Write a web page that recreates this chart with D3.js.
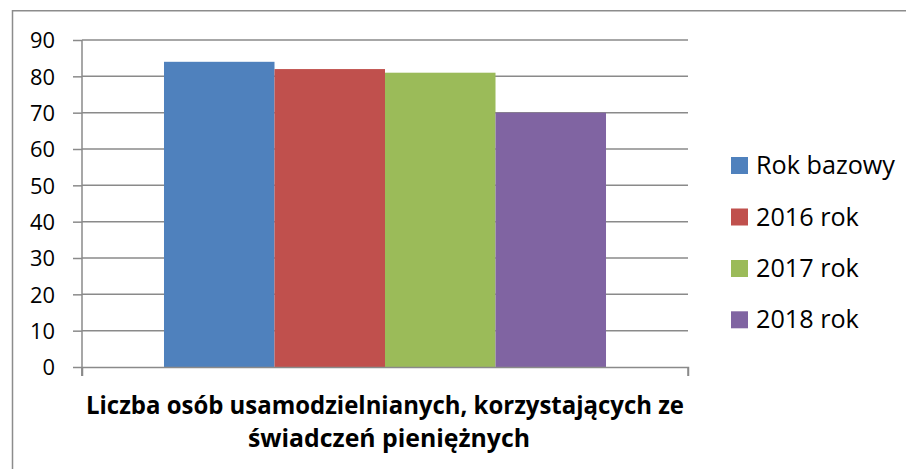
<!DOCTYPE html>
<html>
<head>
<meta charset="utf-8">
<script src="https://cdn.jsdelivr.net/npm/d3@7"></script>
<style>
  html, body { margin: 0; padding: 0; background: #fff; }
  svg { display: block; }
  text { font-family: "Open Sans", "DejaVu Sans", sans-serif; fill: #000; }
</style>
</head>
<body>
<svg id="chart" width="906" height="469"></svg>
<script>
const categories = ["Liczba osób usamodzielnianych, korzystających ze świadczeń pieniężnych"];
const categoryLines = ["Liczba osób usamodzielnianych, korzystających ze", "świadczeń pieniężnych"];
const seriesNames = ["Rok bazowy", "2016 rok", "2017 rok", "2018 rok"];
const seriesValues = [84, 82, 81, 70];
const seriesColors = ["#4F81BD", "#C0504D", "#9BBB59", "#8064A2"];
const yTicks = [0, 10, 20, 30, 40, 50, 60, 70, 80, 90];

const svg = d3.select("#chart");
const plot = { left: 82, right: 688, top: 40, bottom: 367 };
const FONT = "'Open Sans', 'DejaVu Sans', sans-serif";

// outer border
svg.append("rect")
  .attr("x", 12.5).attr("y", 10.75)
  .attr("width", 960).attr("height", 500)
  .attr("fill", "none").attr("stroke", "#8c8c8c").attr("stroke-width", 1.5);

const y = d3.scaleLinear().domain([0, 90]).range([plot.bottom, plot.top]);
const x0 = d3.scaleBand().domain(categories).range([plot.left, plot.right])
  .paddingInner(0).paddingOuter(0.1855);
const x1 = d3.scaleBand().domain(seriesNames).range([0, x0.bandwidth()]).padding(0);

const gridColor = "#8a8a8a";

// gridlines
svg.append("g").selectAll("line").data(yTicks.filter(d => d > 0)).join("line")
  .attr("x1", plot.left).attr("x2", plot.right)
  .attr("y1", d => y(d)).attr("y2", d => y(d))
  .attr("stroke", gridColor).attr("stroke-width", 1.5);

// bars
svg.append("g").selectAll("rect").data(seriesNames.map((s, i) => ({ s, v: seriesValues[i], c: seriesColors[i] })))
  .join("rect")
  .attr("x", d => x0(categories[0]) + x1(d.s))
  .attr("width", x1.bandwidth())
  .attr("y", d => y(d.v))
  .attr("height", d => y(0) - y(d.v))
  .attr("fill", d => d.c);

// fit helper
function fitWidth(sel, target) {
  const node = sel.node();
  const fs = parseFloat(sel.attr("font-size"));
  const w = node.getComputedTextLength();
  sel.attr("font-size", (fs * target / w).toFixed(2));
}

// y axis
const yAxis = d3.axisLeft(y).tickValues(yTicks).tickSize(9).tickPadding(18).tickSizeOuter(0);
const gy = svg.append("g").attr("transform", `translate(${plot.left},0)`).call(yAxis);
gy.select(".domain").attr("stroke", gridColor).attr("stroke-width", 1.5)
  .attr("d", `M0,${plot.top}V${plot.bottom + 9}`);
gy.selectAll(".tick line").attr("stroke", gridColor).attr("stroke-width", 1.5);
gy.selectAll(".tick text").attr("font-family", FONT)
  .attr("font-size", 20).attr("fill", "#000").attr("dy", "0.36em");
const t90 = gy.selectAll(".tick text").filter(d => d === 90);
fitWidth(t90, 25);
gy.selectAll(".tick text").attr("font-size", t90.attr("font-size"));

// x axis
const xAxis = d3.axisBottom(x0).tickValues([]).tickSizeOuter(9);
const gx = svg.append("g").attr("transform", `translate(0,${plot.bottom})`).call(xAxis);
gx.select(".domain").attr("stroke", gridColor).attr("stroke-width", 1.5);
svg.append("g").selectAll("line").data([plot.left, plot.right]).join("line")
  .attr("x1", d => d).attr("x2", d => d)
  .attr("y1", plot.bottom).attr("y2", plot.bottom + 9)
  .attr("stroke", gridColor).attr("stroke-width", 1.5);

// category label
const cx = (plot.left + plot.right) / 2;
svg.append("text").attr("x", cx).attr("y", 414).attr("text-anchor", "middle")
  .attr("font-weight", "bold").attr("font-size", 25)
  .attr("textLength", 598).attr("lengthAdjust", "spacingAndGlyphs")
  .text(categoryLines[0]);
svg.append("text").attr("x", cx + 4).attr("y", 447).attr("text-anchor", "middle")
  .attr("font-weight", "bold").attr("font-size", 25)
  .attr("textLength", 282).attr("lengthAdjust", "spacingAndGlyphs")
  .text(categoryLines[1]);

// legend
const legend = svg.append("g");
const rowY = [157, 208.5, 260, 311.3];
seriesNames.forEach((s, i) => {
  legend.append("rect").attr("x", 731).attr("y", rowY[i]).attr("width", 17).attr("height", 17)
    .attr("fill", seriesColors[i]);
});
const legTexts = seriesNames.map((s, i) =>
  legend.append("text").attr("x", 756).attr("y", rowY[i] + 17).attr("font-size", 24).text(s));
fitWidth(legTexts[0], 139);
legTexts.forEach(t => t.attr("font-size", legTexts[0].attr("font-size")));
</script>
</body>
</html>
